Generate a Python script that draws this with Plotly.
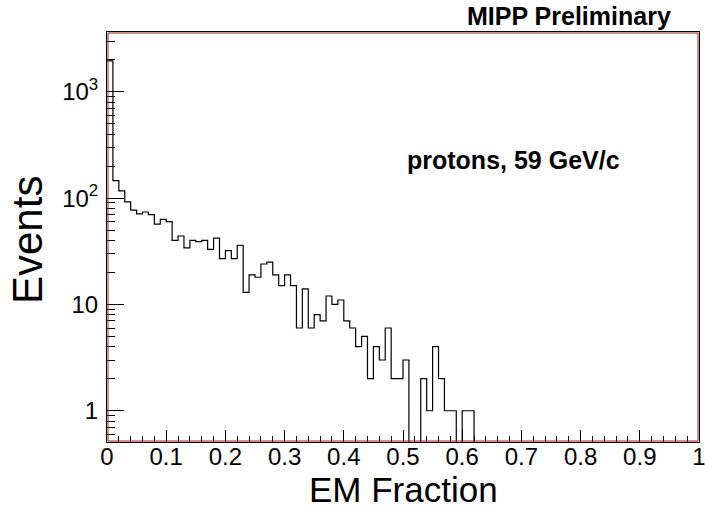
import numpy as np
import plotly.graph_objects as go

# Histogram: EM fraction, 100 bins from 0 to 1
bin_edges = [round(i * 0.01, 2) for i in range(101)]
counts = [
    1950, 146, 117, 92, 77, 71, 74, 70, 57, 63,
    60, 40, 44, 34, 40, 39, 40, 33, 42, 27,
    32, 27, 36, 13, 19, 18, 24, 25, 19, 15,
    19, 15, 6, 14, 6, 8, 7, 12, 10, 11,
    7, 6, 4, 5, 2, 4, 3, 6, 2, 2,
    3, 0, 0, 2, 1, 4, 2, 1, 1, 0,
    1, 1, 0, 0, 0, 0, 0, 0, 0, 0,
    0, 0, 0, 0, 0, 0, 0, 0, 0, 0,
    0, 0, 0, 0, 0, 0, 0, 0, 0, 0,
    0, 0, 0, 0, 0, 0, 0, 0, 0, 0,
]
x_ticks = [0, 0.1, 0.2, 0.3, 0.4, 0.5, 0.6, 0.7, 0.8, 0.9, 1]
x_tick_text = ["0", "0.1", "0.2", "0.3", "0.4", "0.5", "0.6", "0.7", "0.8", "0.9", "1"]
y_ticks = [1, 10, 100, 1000]
y_tick_text = ["1", "10", "10<sup>2</sup>", "10<sup>3</sup>"]
y_min, y_max = 0.508, 3650

FLOOR = 0.1  # empty bins drop below the log-axis minimum (clipped)
step_y = [c if c > 0 else FLOOR for c in counts]
step_y = step_y + [step_y[-1]]

fig = go.Figure()
fig.add_trace(go.Scatter(
    x=bin_edges, y=step_y, mode="lines", line_shape="hv",
    line=dict(color="black", width=1.2), hoverinfo="skip", showlegend=False,
))

minor_y = [m * 10 ** e for e in range(-1, 4) for m in range(2, 10)]
minor_y = [v for v in minor_y if y_min < v < y_max]

font = "Liberation Sans, Arial, Helvetica, sans-serif"
fig.update_layout(
    width=705, height=512,
    margin=dict(l=107, r=6, t=32, b=70, autoexpand=False),
    paper_bgcolor="white", plot_bgcolor="white",
    font=dict(family=font, color="black"),
    xaxis=dict(
        range=[0, 1], tickvals=x_ticks, ticktext=x_tick_text,
        ticks="inside", ticklen=12, tickcolor="black", tickwidth=1,
        minor=dict(dtick=0.02, tick0=0, ticks="inside", ticklen=6, tickcolor="black"),
        showgrid=False, zeroline=False, showline=True, linecolor="black", linewidth=1,
        mirror=True, tickfont=dict(size=24), ticklabelstandoff=-7,
        ticklabeloverflow="allow", automargin=False,
    ),
    yaxis=dict(
        type="log", range=[np.log10(y_min), np.log10(y_max)],
        tickvals=y_ticks, ticktext=y_tick_text,
        ticks="inside", ticklen=17, tickcolor="black", tickwidth=1,
        minor=dict(tickvals=minor_y, ticks="inside", ticklen=8, tickcolor="black"),
        showgrid=False, zeroline=False, showline=True, linecolor="black", linewidth=1,
        mirror=True, tickfont=dict(size=24), ticklabelstandoff=3, automargin=False,
    ),
    shapes=[dict(type="rect", xref="paper", yref="paper",
                 x0=0.0017, x1=0.9983, y0=0.0024, y1=0.9976,
                 line=dict(color="#a02020", width=1), layer="above")],
    annotations=[
        dict(text="EM Fraction", xref="paper", yref="paper", x=0.5, y=-0.116,
             xanchor="center", yanchor="middle", showarrow=False, font=dict(size=35)),
        dict(text="Events", xref="paper", yref="paper", x=-0.1334, y=0.4927,
             xanchor="center", yanchor="middle", textangle=-90, showarrow=False,
             font=dict(size=42)),
        dict(text="<b>MIPP Preliminary</b>", xref="paper", yref="paper", x=0.7796, y=1.040,
             xanchor="center", yanchor="middle", showarrow=False, font=dict(size=25)),
        dict(text="<b>protons, 59 GeV/c</b>", xref="paper", yref="paper", x=0.686, y=0.688,
             xanchor="center", yanchor="middle", showarrow=False, font=dict(size=25)),
    ],
)

fig.write_html("out.html")
